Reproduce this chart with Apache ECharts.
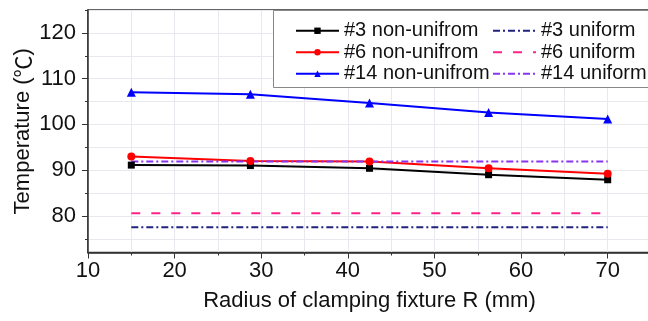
<!DOCTYPE html>
<html>
<head>
<meta charset="utf-8">
<script src="https://cdn.jsdelivr.net/npm/echarts@6/dist/echarts.min.js"></script>
<style>
  html, body { margin: 0; padding: 0; background: #fff; }
  #chart { width: 648px; height: 321px; }
</style>
</head>
<body>
<div id="chart"></div>
<script>
// radius of clamping fixture R (mm)
const radius = [15, 28.75, 42.5, 56.25, 70]

// temperatures
const t3NonUniform = [91.1, 91.0, 90.4, 89.0, 87.9]
const t6NonUniform = [93.0, 92.0, 91.9, 90.4, 89.2]
const t14NonUniform = [107.0, 106.6, 104.7, 102.6, 101.2]
const t3Uniform = [77.5, 77.5, 77.5, 77.5, 77.5]
const t6Uniform = [80.6, 80.6, 80.6, 80.6, 80.6]
const t14Uniform = [91.9, 91.9, 91.9, 91.9, 91.9]

const xLabelValues = [10, 20, 30, 40, 50, 60, 70]
const yLabelValues = [80, 90, 100, 110, 120]
const yTickValues = [75, 80, 85, 90, 95, 100, 105, 110, 115, 120, 125]

const font = '"Liberation Sans", Arial, "Noto Sans CJK SC", sans-serif'
const cjk = '"Noto Sans CJK SC", "Liberation Sans", sans-serif'

function pairs(ys) {
  return radius.map((x, i) => [x, ys[i]])
}

function nonUniform(name, ys, color, symbol, size) {
  return {
    name: name,
    type: 'line',
    data: pairs(ys),
    symbol: symbol,
    symbolSize: size,
    itemStyle: { color: color },
    lineStyle: { color: color, width: 2 },
    animation: false
  }
}

function uniform(name, ys, color, dash) {
  return {
    name: name,
    type: 'line',
    data: pairs(ys),
    symbol: 'none',
    itemStyle: { color: color },
    lineStyle: { color: color, width: 2, type: dash },
    animation: false
  }
}

const chart = echarts.init(document.getElementById('chart'))

const options = {
  backgroundColor: '#fff',
  textStyle: { fontFamily: font },
  grid: {
    left: 88,
    top: 10,
    width: 563,
    height: 242.5,
    show: true,
    borderColor: '#333',
    borderWidth: 1.5,
    backgroundColor: 'transparent',
    outerBoundsMode: 'none'
  },
  // legend frame, runs off the right edge like in the original
  graphic: [{
    type: 'rect',
    z: 3,
    shape: { x: 273.5, y: 10.5, width: 420, height: 77 },
    style: { fill: '#fff', stroke: '#888', lineWidth: 1 }
  }],
  legend: {
    orient: 'vertical',
    left: 273,
    top: 10,
    height: 67,
    padding: [10, 0, 4, 22],
    itemGap: 0,
    itemWidth: 43,
    itemHeight: 8,
    textStyle: { fontSize: 20, color: '#111', width: 148, lineHeight: 21.5, fontFamily: font },
    data: [
      { name: '#3 non-unifrom' },
      { name: '#6 non-unifrom' },
      { name: '#14 non-unifrom' },
      { name: '#3 uniform', itemStyle: { opacity: 0 } },
      { name: '#6 uniform', itemStyle: { opacity: 0 } },
      { name: '#14 uniform', itemStyle: { opacity: 0 } }
    ]
  },
  xAxis: {
    type: 'value',
    min: 10,
    max: 75,
    interval: 10,
    name: 'Radius of clamping fixture R (mm)',
    nameLocation: 'middle',
    nameGap: 37,
    nameMoveOverlap: false,
    nameTextStyle: { fontSize: 22, color: '#111', fontFamily: font },
    axisLine: { lineStyle: { color: '#333', width: 1.5 } },
    axisTick: { length: 6, lineStyle: { color: '#333' } },
    minorTick: { show: true, splitNumber: 2, length: 3, lineStyle: { color: '#333' } },
    axisLabel: { fontSize: 22, color: '#111', margin: 7, customValues: xLabelValues, fontFamily: font },
    splitLine: { show: true, lineStyle: { color: '#e8e8ee', width: 1 } },
    minorSplitLine: { show: true, lineStyle: { color: '#e8e8ee', width: 1 } }
  },
  yAxis: [{
    type: 'value',
    min: 72,
    max: 125,
    name: '{a|Temperature (}{b|℃}{a|)}',
    nameLocation: 'middle',
    nameGap: 54,
    nameMoveOverlap: false,
    nameTextStyle: {
      fontSize: 22,
      color: '#111',
      rich: {
        a: { fontSize: 22, color: '#111', fontFamily: font },
        b: { fontSize: 22, color: '#111', fontFamily: cjk }
      }
    },
    axisLine: { show: true, lineStyle: { color: '#333', width: 1.5 } },
    axisTick: { show: true, length: 3, customValues: yTickValues, lineStyle: { color: '#333' } },
    axisLabel: { fontSize: 22, color: '#111', margin: 12, customValues: yLabelValues, fontFamily: font },
    splitLine: { show: true, lineStyle: { color: '#e8e8ee', width: 1 } }
  }, {
    type: 'value',
    min: 72,
    max: 125,
    position: 'left',
    axisLine: { show: false },
    axisTick: { show: true, length: 6, customValues: yLabelValues, lineStyle: { color: '#333' } },
    axisLabel: { show: false },
    splitLine: { show: false }
  }],
  series: [
    nonUniform('#3 non-unifrom', t3NonUniform, '#000000', 'rect', 7),
    nonUniform('#6 non-unifrom', t6NonUniform, '#ff0000', 'circle', 8),
    nonUniform('#14 non-unifrom', t14NonUniform, '#0000ff', 'triangle', 9),
    uniform('#3 uniform', t3Uniform, '#22227f', [7, 3, 2, 3]),
    uniform('#6 uniform', t6Uniform, '#ff2288', [9, 11]),
    uniform('#14 uniform', t14Uniform, '#8833ee', [7, 3, 2, 3])
  ]
}

options && chart.setOption(options)
</script>
</body>
</html>
